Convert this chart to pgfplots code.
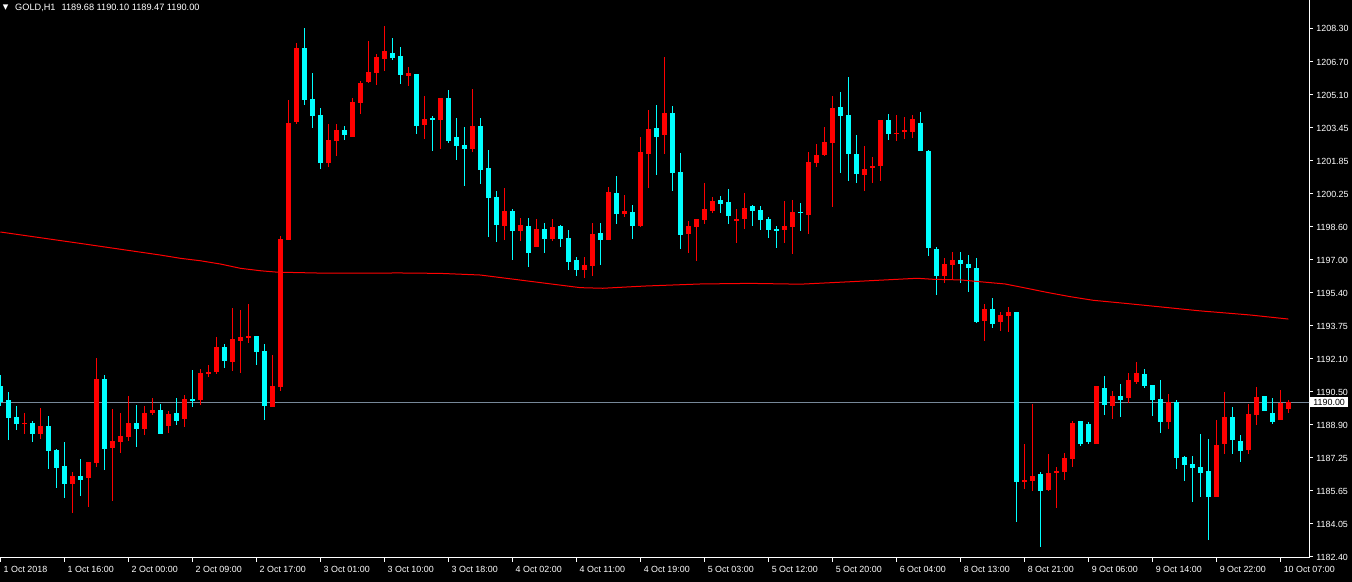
\documentclass[border=0pt]{standalone}
\usepackage{pgfplots}
\pgfplotsset{compat=1.18}
\usepackage{pgfplotstable}
\usepackage{fontspec}
\setmainfont{Liberation Sans}
\newfontfamily\dejavu{DejaVu Sans}
\definecolor{upc}{RGB}{255,0,0}
\definecolor{dnc}{RGB}{0,255,255}
\definecolor{bidc}{RGB}{119,136,153}

% rising hourly bars (drawn red)
\pgfplotstableread{
i o h l c
3 1188.95 1189.46 1188.45 1188.97
5 1188.45 1189.71 1188.20 1188.83
9 1186.00 1186.57 1184.56 1186.38
11 1186.29 1187.06 1184.86 1187.06
12 1187.03 1192.16 1186.83 1191.13
14 1187.76 1189.66 1185.17 1188.09
15 1188.06 1189.46 1187.52 1188.34
16 1188.30 1190.30 1188.11 1188.97
18 1188.69 1189.81 1188.40 1189.46
19 1189.48 1190.20 1189.38 1189.61
21 1188.84 1189.56 1188.50 1189.41
23 1189.18 1190.35 1188.79 1190.15
25 1190.10 1191.62 1189.86 1191.42
26 1191.39 1191.82 1191.24 1191.49
27 1191.49 1193.20 1191.39 1192.71
29 1191.98 1194.62 1191.54 1193.10
30 1193.02 1194.52 1191.44 1193.20
31 1193.15 1194.81 1192.92 1193.25
34 1189.77 1192.31 1189.77 1190.79
35 1190.75 1198.15 1190.56 1198.00
36 1197.96 1204.82 1197.96 1203.69
37 1203.75 1207.61 1203.66 1207.37
41 1201.74 1203.64 1201.54 1202.86
42 1202.83 1203.64 1202.09 1203.35
44 1203.02 1204.92 1203.02 1204.72
45 1204.69 1205.75 1204.15 1205.65
46 1205.72 1207.71 1205.67 1206.19
47 1206.16 1207.07 1205.57 1206.93
48 1206.84 1208.45 1206.26 1207.22
51 1206.01 1206.44 1205.52 1206.14
53 1203.61 1205.01 1202.92 1203.89
55 1203.85 1204.92 1202.43 1204.92
59 1202.43 1205.36 1202.24 1203.55
63 1198.65 1200.50 1197.96 1199.37
65 1198.41 1199.03 1197.92 1198.69
67 1197.62 1198.98 1197.62 1198.49
69 1198.01 1198.98 1197.92 1198.59
73 1196.49 1197.13 1196.10 1196.74
74 1196.69 1198.78 1196.20 1198.24
76 1197.96 1200.55 1197.96 1200.30
78 1199.24 1200.16 1199.09 1199.37
80 1198.65 1203.00 1198.60 1202.27
81 1202.19 1204.33 1200.51 1203.40
83 1203.12 1206.93 1202.19 1204.18
86 1198.26 1198.87 1197.33 1198.62
87 1198.60 1198.98 1196.94 1198.98
88 1198.94 1200.74 1198.75 1199.47
89 1199.39 1200.06 1199.29 1199.86
92 1198.93 1199.47 1197.82 1198.98
93 1198.99 1200.25 1198.50 1199.52
98 1198.45 1199.86 1197.82 1198.64
99 1198.60 1199.91 1197.28 1199.32
101 1199.19 1202.27 1198.26 1201.77
102 1201.74 1202.66 1201.54 1202.12
103 1202.12 1203.49 1202.09 1202.76
104 1202.72 1205.01 1199.58 1204.42
108 1201.15 1202.57 1200.37 1201.43
109 1201.49 1202.02 1200.76 1201.58
110 1201.59 1203.84 1200.86 1203.84
112 1203.17 1204.08 1202.83 1203.22
113 1203.27 1203.99 1202.92 1203.32
114 1203.27 1204.08 1202.97 1203.89
118 1196.20 1197.07 1195.86 1196.77
119 1196.72 1197.36 1196.05 1196.97
123 1193.95 1194.81 1193.02 1194.57
125 1193.95 1194.42 1193.46 1194.28
126 1194.24 1194.66 1193.46 1194.42
128 1186.10 1187.94 1185.75 1186.19
129 1186.15 1189.92 1185.66 1186.39
131 1185.70 1187.47 1185.66 1186.54
132 1186.54 1186.83 1184.82 1186.64
133 1186.59 1187.52 1186.19 1187.27
134 1187.22 1189.09 1186.83 1188.99
137 1187.96 1190.80 1187.96 1190.80
139 1189.82 1190.56 1189.18 1190.31
141 1190.21 1191.42 1189.97 1191.08
142 1191.00 1191.96 1190.90 1191.42
146 1189.04 1190.40 1188.69 1190.00
152 1185.36 1189.12 1185.36 1187.90
153 1187.96 1190.49 1187.47 1189.27
156 1187.66 1189.90 1187.47 1189.41
157 1189.38 1190.74 1188.89 1190.25
160 1189.13 1190.59 1189.13 1189.95
161 1189.68 1190.10 1189.47 1190.00
}\upbars

% falling hourly bars (drawn cyan)
\pgfplotstableread{
i o h l c
0 1190.79 1191.33 1189.81 1190.02
1 1190.10 1190.49 1188.15 1189.23
2 1189.27 1189.81 1188.64 1188.94
4 1188.97 1189.07 1188.06 1188.45
6 1188.83 1189.32 1186.73 1187.62
7 1187.65 1187.70 1185.80 1186.78
8 1186.87 1188.04 1185.31 1186.00
10 1186.38 1187.21 1185.41 1186.19
13 1191.13 1191.33 1186.68 1187.71
17 1188.97 1189.86 1187.81 1188.69
20 1189.61 1189.90 1188.45 1188.45
22 1189.46 1190.20 1188.89 1189.09
24 1190.15 1191.57 1189.77 1190.05
28 1192.71 1192.85 1191.68 1192.03
32 1193.25 1193.25 1191.83 1192.47
33 1192.50 1192.85 1189.13 1189.82
38 1207.37 1208.35 1204.59 1204.83
39 1204.87 1206.14 1203.46 1204.05
40 1204.08 1204.43 1201.45 1201.74
43 1203.35 1203.55 1202.83 1203.12
49 1207.12 1207.86 1206.79 1206.89
50 1206.98 1207.42 1205.62 1206.06
52 1206.09 1206.09 1203.17 1203.56
54 1203.94 1204.03 1202.33 1203.85
56 1204.92 1205.31 1202.72 1202.83
57 1203.00 1203.94 1201.89 1202.58
58 1202.61 1203.49 1200.61 1202.43
60 1203.55 1203.94 1200.71 1201.40
61 1201.48 1202.37 1198.11 1200.02
62 1200.06 1200.35 1197.87 1198.70
64 1199.37 1199.47 1196.98 1198.41
66 1198.64 1199.03 1196.64 1197.33
68 1198.49 1198.78 1197.33 1198.01
70 1198.64 1198.69 1197.62 1198.01
71 1198.05 1198.44 1196.49 1196.89
72 1196.98 1197.13 1196.20 1196.49
75 1198.29 1198.78 1196.74 1197.96
77 1200.25 1201.09 1198.75 1199.24
79 1199.32 1199.67 1198.01 1198.65
82 1203.45 1204.57 1201.15 1203.02
84 1204.18 1204.52 1200.37 1201.25
85 1201.28 1202.22 1197.52 1198.21
90 1199.91 1200.11 1199.29 1199.73
91 1199.81 1200.45 1198.75 1199.14
94 1199.62 1199.67 1198.65 1199.39
95 1199.42 1199.62 1198.45 1198.94
96 1198.98 1199.08 1198.06 1198.45
97 1198.49 1198.64 1197.57 1198.41
100 1199.34 1199.76 1198.41 1199.27
105 1204.47 1205.21 1201.25 1204.05
106 1204.08 1205.95 1200.86 1202.19
107 1202.17 1203.10 1200.76 1201.20
111 1203.84 1204.13 1202.87 1203.17
115 1203.69 1204.23 1202.33 1202.33
116 1202.32 1202.37 1197.18 1197.57
117 1197.51 1197.61 1195.27 1196.20
120 1196.97 1197.36 1195.86 1196.79
121 1196.77 1197.21 1195.40 1196.59
122 1196.58 1197.07 1193.90 1193.95
124 1194.57 1195.11 1193.65 1193.85
127 1194.42 1194.42 1184.14 1186.10
130 1186.49 1186.59 1182.90 1185.66
135 1189.09 1189.09 1187.86 1187.96
136 1188.94 1189.04 1187.96 1188.06
138 1190.70 1191.29 1189.38 1189.87
140 1190.31 1190.90 1189.28 1190.11
143 1191.37 1191.62 1190.70 1190.80
144 1190.84 1190.84 1189.33 1190.12
145 1190.15 1191.08 1188.50 1189.04
147 1190.00 1190.10 1186.73 1187.27
148 1187.31 1187.36 1186.15 1186.93
149 1186.96 1187.36 1185.12 1186.78
150 1186.82 1188.43 1185.36 1186.54
151 1186.62 1188.19 1183.23 1185.36
154 1189.27 1189.76 1187.47 1188.15
155 1188.09 1188.39 1187.08 1187.62
158 1190.30 1190.30 1189.58 1189.58
159 1189.46 1190.20 1188.94 1189.04
}\downbars

% moving average
\pgfplotstableread{
x ma
0 1198.34
10 1197.78
20 1197.21
22.5 1197.05
25 1196.93
27.5 1196.77
30 1196.56
32.5 1196.44
34.6 1196.37
40.6 1196.32
50 1196.33
55 1196.31
60 1196.23
72.5 1195.61
75.3 1195.58
80.6 1195.69
87.5 1195.79
93.7 1195.82
100 1195.78
106.2 1195.90
114.6 1196.07
116.6 1196.02
120 1195.99
122.5 1195.90
125.6 1195.79
128.3 1195.58
130.8 1195.38
133.7 1195.17
136.6 1194.99
140.6 1194.84
150 1194.47
156.2 1194.27
161 1194.07
}\mavals

\begin{document}
\begin{tikzpicture}
\fill[black] (0,0) rectangle (676pt,291pt);
\begin{axis}[
    at={(0pt,12pt)}, anchor=south west,
    scale only axis, width=654.5pt, height=279pt,
    xmin=-0.04, xmax=163.58, ymin=1182.35, ymax=1209.72,
    axis x line*=bottom, axis y line*=right,
    axis line style={white, line width=0.5pt},
    tick align=outside, major tick length=2pt,
    tick style={white, line width=0.5pt},
    font=\fontsize{4.45}{5.3}\selectfont,
    tick label style={text=white},
    xtick={0,8,...,160},
    xticklabels={1 Oct 2018, 1 Oct 16:00, 2 Oct 00:00, 2 Oct 09:00, 2 Oct 17:00,
        3 Oct 01:00, 3 Oct 10:00, 3 Oct 18:00, 4 Oct 02:00, 4 Oct 11:00,
        4 Oct 19:00, 5 Oct 03:00, 5 Oct 12:00, 5 Oct 20:00, 6 Oct 04:00,
        8 Oct 13:00, 8 Oct 21:00, 9 Oct 06:00, 9 Oct 14:00, 9 Oct 22:00,
        10 Oct 07:00},
    xticklabel style={anchor=west, inner sep=0pt, xshift=1.5pt, yshift=-3.5pt},
    ytick={1182.4,1184.01875,1185.6375,1187.25625,1188.875,1190.49375,
        1192.1125,1193.73125,1195.35,1196.96875,1198.5875,1200.20625,
        1201.825,1203.44375,1205.0625,1206.68125,1208.3},
    yticklabels={1182.40,1184.05,1185.65,1187.25,1188.90,1190.50,1192.10,
        1193.75,1195.40,1197.00,1198.60,1200.25,1201.85,1203.45,1205.10,
        1206.70,1208.30},
    yticklabel style={anchor=west, inner sep=0pt, xshift=1.5pt},
    extra y ticks={1190.00},
    extra y tick labels={1190.00},
    extra y tick style={major tick length=0pt,
        yticklabel style={fill=white, text=black, inner xsep=1.5pt,
            inner ysep=1pt, xshift=-1pt}},
]
% bid line
\addplot[bidc, line width=0.5pt, forget plot] coordinates {(-1,1190.00) (170,1190.00)};

% wicks and bodies of the rising bars
\addplot[draw=none, mark=none, forget plot,
    error bars/.cd, y dir=both, y explicit, error mark=none,
    error bar style={draw=upc, line width=0.5pt}]
    table[x=i, y expr={(\thisrow{h}+\thisrow{l})/2},
        y error expr={(\thisrow{h}-\thisrow{l})/2}] {\upbars};
\addplot[draw=none, mark=none, forget plot,
    error bars/.cd, y dir=both, y explicit, error mark=none,
    error bar style={draw=upc, line width=2.5pt}]
    table[x=i, y expr={(\thisrow{o}+\thisrow{c})/2},
        y error expr={max(abs(\thisrow{c}-\thisrow{o})/2,0.025)}] {\upbars};

% wicks and bodies of the falling bars
\addplot[draw=none, mark=none, forget plot,
    error bars/.cd, y dir=both, y explicit, error mark=none,
    error bar style={draw=dnc, line width=0.5pt}]
    table[x=i, y expr={(\thisrow{h}+\thisrow{l})/2},
        y error expr={(\thisrow{h}-\thisrow{l})/2}] {\downbars};
\addplot[draw=none, mark=none, forget plot,
    error bars/.cd, y dir=both, y explicit, error mark=none,
    error bar style={draw=dnc, line width=2.5pt}]
    table[x=i, y expr={(\thisrow{o}+\thisrow{c})/2},
        y error expr={max(abs(\thisrow{c}-\thisrow{o})/2,0.025)}] {\downbars};

% moving average
\addplot[upc, line width=0.5pt, mark=none] table[x=x, y=ma] {\mavals};
\end{axis}
\node[anchor=west, inner sep=0pt, text=white, font=\dejavu\fontsize{3.6}{4}\selectfont] at (1.3pt,287.2pt) {▼};
\node[anchor=west, inner sep=0pt, text=white, font=\fontsize{4.6}{5.4}\selectfont] at (7.4pt,287.2pt) {GOLD,H1\hspace{3pt}1189.68 1190.10 1189.47 1190.00};
\pgfresetboundingbox
\useasboundingbox (0,0) rectangle (676pt,291pt);
\end{tikzpicture}
\end{document}
